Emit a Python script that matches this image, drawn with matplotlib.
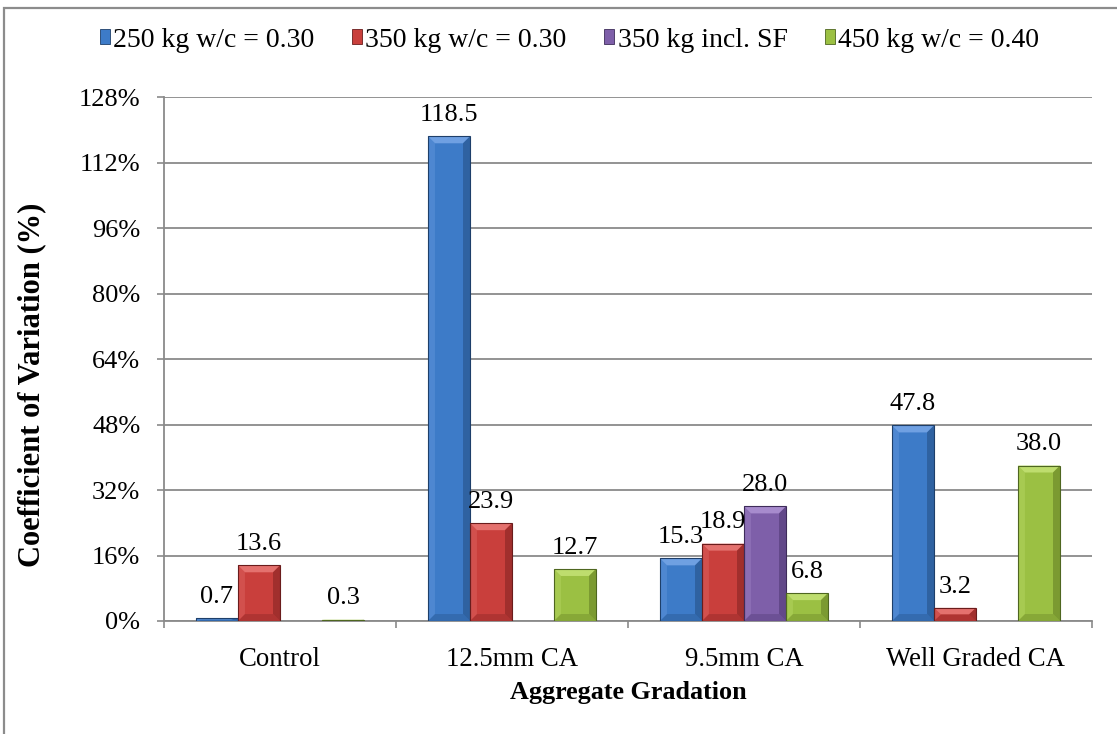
import matplotlib
matplotlib.use("Agg")
import matplotlib.pyplot as plt
from matplotlib.patches import Polygon, Rectangle, Patch
import numpy as np

plt.rcParams['font.family'] = ['Liberation Serif', 'DejaVu Serif']

# gradations and coefficient of variation per mix (nan = not tested)
gradations = ["Control", "12.5mm CA", "9.5mm CA", "Well Graded CA"]
series_names = ["250 kg w/c = 0.30", "350 kg w/c = 0.30", "350 kg incl. SF", "450 kg w/c = 0.40"]
cov_250 = [0.7, 118.5, 15.3, 47.8]
cov_350 = [13.6, 23.9, 18.9, 3.2]
cov_350_sf = [np.nan, np.nan, 28.0, np.nan]
cov_450 = [0.3, 12.7, 6.8, 38.0]
y_ticks = [0, 16, 32, 48, 64, 80, 96, 112, 128]

all_series = [cov_250, cov_350, cov_350_sf, cov_450]

# base, light bevel, dark bevel, outline
palette = [
    ("#3D7BC8", "#6FA0E2", "#2C5C98", "#1E3F6A"),
    ("#C93F3C", "#E4716E", "#972B2A", "#6A1C1C"),
    ("#7E5FA9", "#A78BCD", "#5C4382", "#3E2C5A"),
    ("#9BC043", "#BEDD6E", "#74912D", "#4E6620"),
]

fig = plt.figure(figsize=(11.17, 7.34), dpi=100)
ax = fig.add_axes([0.1468, 0.1540, 0.8308, 0.7132])

bar_w = 0.181
bev_x = 0.030
bev_y = 1.7
x = np.arange(len(gradations))

for i, vals in enumerate(all_series):
    base, light, dark, edge = palette[i]
    for xc, v in zip(x, vals):
        if np.isnan(v):
            continue
        x0 = xc + (i - 2) * bar_w
        x1 = x0 + bar_w
        by = min(bev_y, v / 2)
        ax.add_patch(Rectangle((x0, 0), bar_w, v, facecolor=base, edgecolor="none", zorder=3))
        # bevel faces
        ax.add_patch(Polygon([(x0, v), (x1, v), (x1 - bev_x, v - by), (x0 + bev_x, v - by)],
                             facecolor=light, edgecolor="none", zorder=4))
        ax.add_patch(Polygon([(x0, 0), (x1, 0), (x1 - bev_x, by), (x0 + bev_x, by)],
                             facecolor=dark, alpha=0.5, edgecolor="none", zorder=4))
        ax.add_patch(Polygon([(x0, 0), (x0, v), (x0 + bev_x, v - by), (x0 + bev_x, by)],
                             facecolor=light, alpha=0.35, edgecolor="none", zorder=4))
        ax.add_patch(Polygon([(x1, 0), (x1, v), (x1 - bev_x, v - by), (x1 - bev_x, by)],
                             facecolor=dark, alpha=0.8, edgecolor="none", zorder=4))
        ax.add_patch(Rectangle((x0, 0), bar_w, v, facecolor="none", edgecolor=edge, lw=0.8, zorder=5))
        ax.annotate(f"{v:.1f}", (x0 + bar_w / 2, v), xytext=(0, 11), textcoords="offset points",
                    ha="center", va="baseline", fontsize=19, zorder=6)

ax.set_xlim(-0.5, 3.5)
ax.set_ylim(0, 128)
ax.set_yticks(y_ticks)
ax.set_yticklabels([f"{t}%" for t in y_ticks], fontsize=19)
ax.set_xticks(x)
ax.set_xticklabels(gradations, fontsize=19.3)
ax.set_xticks(np.arange(-0.5, 4, 1), minor=True)
ax.tick_params(axis="x", which="major", length=0, pad=19)
ax.tick_params(axis="x", which="minor", length=5, width=1.2, color="#8a8a8a", direction="out")
ax.tick_params(axis="y", length=5, width=1.2, color="#8a8a8a", direction="out", pad=12)

ax.yaxis.grid(True, color="#8a8a8a", lw=1.3, zorder=0)
ax.set_axisbelow(True)
for s in ["top", "right"]:
    ax.spines[s].set_visible(False)
for s in ["left", "bottom"]:
    ax.spines[s].set_color("#8a8a8a")
    ax.spines[s].set_linewidth(1.3)

ax.set_xlabel("Aggregate Gradation", fontsize=18.8, fontweight="bold", labelpad=6)
# y title sits a bit below the axes centre
fig.text(32 / 1117, 1 - 385 / 734, "Coefficient of Variation (%)", rotation=90,
         ha="center", va="center", fontsize=22, fontweight="bold")

handles = [Patch(facecolor=p[0], edgecolor=p[3], lw=0.6) for p in palette]
fig.legend(handles, series_names, loc="center", bbox_to_anchor=(0.510, 0.9455), ncol=4,
           frameon=False, fontsize=20, handlelength=0.36, handleheight=0.45,
           handletextpad=0.12, columnspacing=1.35)

# outer chart frame
fig.add_artist(Rectangle((4 / 1117, -0.1), 1.2, 1 - 8 / 734 + 0.1, transform=fig.transFigure,
                         fill=False, edgecolor="#8c8c8c", lw=1.6))

fig.savefig("out.png", dpi=100)
